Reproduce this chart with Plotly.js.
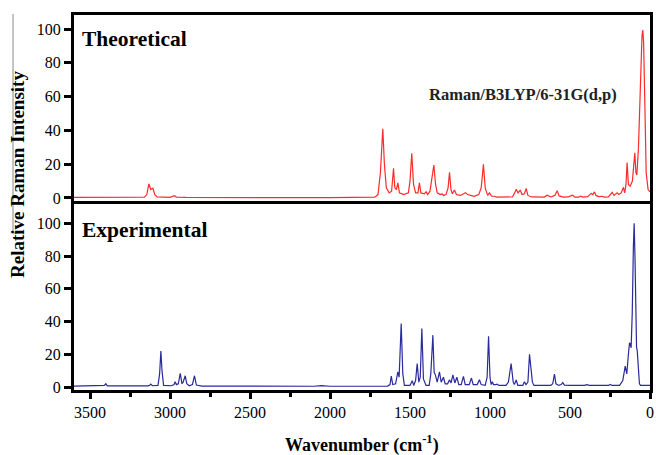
<!DOCTYPE html>
<html>
<head>
<meta charset="utf-8">
<script src="https://cdn.plot.ly/plotly-3.0.1.min.js"></script>
<style>html,body{margin:0;padding:0;background:#fff;}#chart{width:656px;height:455px;}</style>
</head>
<body>
<div id="chart"></div>
<script>
// Theoretical spectrum (Raman/B3LYP/6-31G(d,p))
const theoWn = [3600,3200,3160,3145,3132,3120,3107,3095,3080,3000,2985,2972,2960,2900,2000,1800,1720,1700,1685,1670,1660,1648,1630,1615,1603,1595,1585,1576,1566,1540,1510,1500,1489,1478,1465,1450,1441,1432,1420,1410,1399,1390,1375,1362,1351,1340,1330,1310,1300,1290,1275,1262,1253,1244,1235,1222,1210,1185,1165,1153,1140,1100,1070,1055,1041,1030,1015,1003,990,972,960,900,860,846,836,825,811,800,785,774,763,740,700,660,645,639,620,595,580,568,540,510,490,482,470,445,433,420,390,378,368,357,347,338,320,300,285,260,245,236,225,205,195,180,166,158,150,143,135,124,110,95,88,82,72,60,50,45,40,32,24,12,0];
const theoInt = [0.3,0.3,0.5,2,8.3,5,5.8,2,0.6,0.4,0.8,1.3,0.5,0.3,0.2,0.3,0.5,2,15,41,20,6,3,4,17.6,6,5,9,3,2,3,10,26.4,8,3,3,9,3,2.5,2.5,3.7,2,4,12,19.5,8,3,2,2.5,1.5,2,6,15.2,5,2.5,4.7,2,1.5,2.5,3.1,2,1,2,6,19.9,6,1.5,3,1,1,0.5,0.3,0.6,3,5.1,3,4.7,2,2.5,5.7,1.5,0.6,0.4,0.5,1.5,1.5,0.6,1.5,4.3,1.2,0.5,0.6,1.5,1.5,0.5,0.5,1,0.5,0.8,2,2.7,2,3.6,1.5,0.8,1,0.5,0.6,2,3.3,1.5,3,2,3,6.3,3,8,20.9,8,7,10,26.8,15,13.6,30,70,96,99.4,92,55,15,5,3.6];

// Experimental spectrum
const expWn = [3600,3420,3410,3401,3392,3140,3128,3120,3110,3075,3065,3057,3050,3040,2990,2975,2968,2960,2948,2936,2925,2918,2905,2895,2880,2860,2847,2835,2800,2100,2053,2000,1640,1625,1617,1608,1590,1576,1568,1555,1545,1535,1500,1486,1477,1465,1455,1445,1436,1426,1416,1400,1380,1370,1357,1349,1341,1330,1316,1305,1291,1280,1265,1253,1243,1232,1220,1207,1195,1180,1166,1155,1130,1116,1105,1080,1066,1055,1030,1018,1009,1000,993,986,978,963,955,945,900,885,868,855,848,836,826,795,785,775,763,753,748,742,735,725,620,608,597,588,570,555,545,535,500,410,395,380,300,260,249,238,190,170,155,145,135,128,124,118,111,104,99,94,88,84,80,74,66,59,40,0];
const expInt = [0.6,0.6,1,2,0.7,0.7,1,1.8,0.8,1,8,22,10,1,0.8,1.5,3.2,1.5,2,8.3,2,3,6.9,2,0.8,1.5,6.9,1.2,0.6,0.5,0.9,0.5,0.6,1.5,6.7,1.5,2,9.3,6,38.8,8,1,1,3.9,1,4,14.4,3,6,35.8,5,1,1,8,31.7,9,7.3,3,9.3,3,6,2,2,4.4,2.5,7.4,2.5,6,1.5,1.5,6.5,1.5,1.5,5.5,1.5,1.5,4.5,1.5,1,6,31,6,1.5,3.2,1.5,1.5,1.8,1,1,3,14.4,3,1.5,4.3,1,1,3.2,1.5,3,20,15,12.4,3,1,1,2,7.9,2,1,1.5,2.8,1.2,1,1,1.5,1,1,1,1.6,1,1,4,12.8,8,20,27,26.6,24,45,85,100,80,40,24,22.6,10,2,1,1,1];

const xTickVals = [3500,3000,2500,2000,1500,1000,500,0];
const yTickVals = [0,20,40,60,80,100];

const serif = 'Liberation Serif, Times New Roman, serif';

const traces = [
  {x: theoWn, y: theoInt, xaxis:'x2', yaxis:'y2', type:'scatter', mode:'lines',
   line:{color:'#ff2a2a', width:1.2}, hoverinfo:'skip'},
  {x: expWn, y: expInt, xaxis:'x', yaxis:'y', type:'scatter', mode:'lines',
   line:{color:'#2a2a9c', width:1.2}, hoverinfo:'skip'}
];

const commonY = {
  tickvals: yTickVals, ticks:'outside', ticklen:7, tickwidth:3, tickcolor:'#000',
  showline:true, linewidth:3, linecolor:'#000', mirror:true, showgrid:false, zeroline:false,
  tickfont:{family:serif, size:16, color:'#000'}
};

const layout = {
  width:656, height:455,
  margin:{l:74, r:6, t:15, b:65},
  paper_bgcolor:'#fff', plot_bgcolor:'#fff',
  showlegend:false,
  xaxis:{
    anchor:'y', range:[3600,0], tickvals:xTickVals, ticks:'outside', ticklen:6, tickwidth:3, tickcolor:'#000',
    minor:{dtick:250, ticks:'outside', ticklen:4, tickwidth:3, tickcolor:'#000', showgrid:false},
    showline:true, linewidth:3, linecolor:'#000', mirror:true, showgrid:false, zeroline:false,
    tickfont:{family:serif, size:16, color:'#000'}
  },
  xaxis2:{
    anchor:'y2', matches:'x', range:[3600,0], showticklabels:false, ticks:'',
    showline:true, linewidth:3, linecolor:'#000', mirror:true, showgrid:false, zeroline:false
  },
  yaxis: Object.assign({}, commonY, {domain:[0,0.496], range:[-1.8,111.8], anchor:'x'}),
  yaxis2: Object.assign({}, commonY, {domain:[0.504,1], range:[-1.8,108.3], anchor:'x2'}),
  annotations:[
    {text:'<b>Theoretical</b>', xref:'paper', yref:'paper', x:0.0104, y:0.936, xanchor:'left', yanchor:'middle',
     showarrow:false, font:{family:serif, size:21.5, color:'#000'}},
    {text:'<b>Experimental</b>', xref:'paper', yref:'paper', x:0.0104, y:0.4267, xanchor:'left', yanchor:'middle',
     showarrow:false, font:{family:serif, size:21.5, color:'#000'}},
    {text:'<b>Raman/B3LYP/6-31G(d,p)</b>', xref:'paper', yref:'paper', x:0.613, y:0.787, xanchor:'left', yanchor:'middle',
     showarrow:false, font:{family:serif, size:16.5, color:'#222'}},
    {text:'<b>Relative Raman Intensity</b>', xref:'paper', yref:'paper', x:-0.099, y:0.576, xanchor:'center', yanchor:'middle',
     textangle:-90, showarrow:false, font:{family:serif, size:19, color:'#000'}},
    {text:'<b>Wavenumber (cm<sup>-1</sup>)</b>', xref:'paper', yref:'paper', x:0.5, y:-0.145, xanchor:'center', yanchor:'middle',
     showarrow:false, font:{family:serif, size:18, color:'#000'}}
  ],
  shapes:[
    {type:'line', xref:'paper', yref:'paper', x0:-0.1059, x1:-0.1059, y0:1.0027, y1:0.4187, line:{color:'#888', width:1}},
    {type:'line', xref:'paper', yref:'paper', x0:-0.1059, x1:-0.0972, y0:0.4187, y1:0.4187, line:{color:'#888', width:1}}
  ]
};

Plotly.newPlot('chart', traces, layout, {staticPlot:true, displayModeBar:false});
</script>
</body>
</html>
